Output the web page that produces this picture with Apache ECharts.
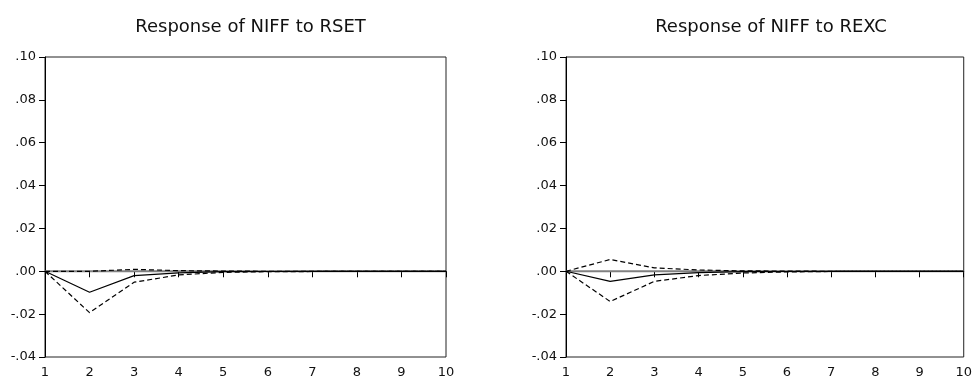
<!DOCTYPE html>
<html><head><meta charset="utf-8">
<script src="https://cdn.jsdelivr.net/npm/echarts@6/dist/echarts.min.js"></script>
<style>html,body{margin:0;padding:0;background:#fff}#c{width:975px;height:381px}</style>
</head><body><div id="c"></div>
<script>
var periods = [1,2,3,4,5,6,7,8,9,10];
var titles = ['Response of NIFF to RSET','Response of NIFF to REXC'];
var rsetResp  = [0,-0.0098,-0.0020,-0.0007,-0.0002,-0.0001,0,0,0,0];
var rsetUpper = [0, 0.0000, 0.0009, 0.0003, 0.0001, 0.0000,0,0,0,0];
var rsetLower = [0,-0.0193,-0.0051,-0.0017,-0.0005,-0.0002,-0.0001,0,0,0];
var rexcResp  = [0,-0.0047,-0.0017,-0.0006,-0.0002,-0.0001,0,0,0,0];
var rexcUpper = [0, 0.0055, 0.0016, 0.0006, 0.0002, 0.0001,0,0,0,0];
var rexcLower = [0,-0.0141,-0.0047,-0.0020,-0.0008,-0.0003,-0.0001,0,0,0];
var yTicks = [-0.04,-0.02,0,0.02,0.04,0.06,0.08,0.10];

function pairs(v){return periods.map(function(p,i){return [p,v[i]];});}
function fmt(v){
  var s = Math.abs(v).toFixed(2).replace(/^0/,'');
  return (v < -1e-9 ? '-' : '') + s;
}
var font = 'DejaVu Sans, Arial, sans-serif';
var grids = [{left:45,top:57,width:401,height:300},{left:566,top:57,width:400,height:300}];
var opt = {
  animation:false,
  backgroundColor:'#fff',
  title: titles.map(function(t,i){return {text:t,left:grids[i].left+grids[i].width/2,top:13,textAlign:'center',
    textStyle:{fontFamily:font,fontSize:18,fontWeight:'normal',color:'#111'}};}),
  grid: grids.map(function(g){return Object.assign({show:true,borderColor:'#222',borderWidth:1,backgroundColor:'transparent'},g);}),
  xAxis: grids.map(function(g,i){return {type:'value',gridIndex:i,min:1,max:10,interval:1,
    axisLine:{show:true,lineStyle:{color:'#000',width:1}},
    axisTick:{show:true,inside:false,length:6,lineStyle:{color:'#000'}},
    axisLabel:{fontFamily:font,fontSize:13,color:'#111',margin:9},
    splitLine:{show:false}};}),
  yAxis: grids.map(function(g,i){return {type:'value',gridIndex:i,min:-0.04,max:0.10,interval:0.02,
    axisLine:{show:true,lineStyle:{color:'#000',width:1}},
    axisTick:{show:true,inside:false,length:6,lineStyle:{color:'#000'}},
    axisLabel:{fontFamily:font,fontSize:13,color:'#111',margin:9,formatter:fmt},
    splitLine:{show:false}};}),
  series: []
};
var sets = [[rsetResp,rsetUpper,rsetLower],[rexcResp,rexcUpper,rexcLower]];
sets.forEach(function(s,i){
  opt.series.push({type:'line',xAxisIndex:i,yAxisIndex:i,data:pairs(periods.map(function(){return 0;})),
    symbol:'none',lineStyle:{color:'#808080',width:2},z:1,silent:true});
  opt.series.push({type:'line',xAxisIndex:i,yAxisIndex:i,data:pairs(s[0]),symbol:'none',
    lineStyle:{color:'#000',width:1.2},z:3});
  opt.series.push({type:'line',xAxisIndex:i,yAxisIndex:i,data:pairs(s[1]),symbol:'none',
    lineStyle:{color:'#000',width:1.2,type:[5,3]},z:3});
  opt.series.push({type:'line',xAxisIndex:i,yAxisIndex:i,data:pairs(s[2]),symbol:'none',
    lineStyle:{color:'#000',width:1.2,type:[5,3]},z:3});
});
var ch = echarts.init(document.getElementById('c'),null,{renderer:'canvas'});
ch.setOption(opt);
</script></body></html>
